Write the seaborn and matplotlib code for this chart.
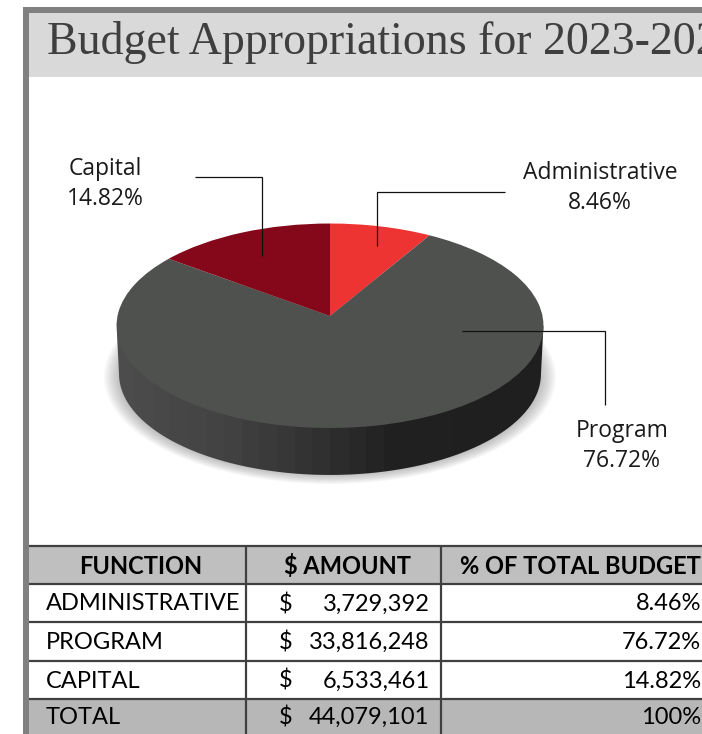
import numpy as np
import matplotlib
matplotlib.use("Agg")
import matplotlib.pyplot as plt
from matplotlib.colors import LinearSegmentedColormap
from matplotlib.patches import Ellipse, Polygon, Rectangle
from matplotlib.transforms import Transform
import seaborn as sns

TITLE = "Budget Appropriations for 2023-2024"
functions = ["ADMINISTRATIVE", "PROGRAM", "CAPITAL"]
slice_names = ["Administrative", "Program", "Capital"]
amounts = [3729392, 33816248, 6533461]
share_labels = ["8.46%", "76.72%", "14.82%"]
total_amount = 44079101
total_share = "100%"
headers = ["FUNCTION", "$ AMOUNT", "% OF TOTAL BUDGET"]
slice_colors = ["#ED3433", "#4F514F", "#84081A"]

sns.set_theme(style="white")
plt.rcParams["font.family"] = ["Open Sans", "DejaVu Sans"]

W, H = 702, 734
fig = plt.figure(figsize=(W / 100, H / 100), dpi=100, facecolor="white")
ax = fig.add_axes([0, 0, 1, 1])


class Tilt(Transform):
    """Perspective view of the unit-circle pie, returned in canvas pixels."""
    input_dims = 2
    output_dims = 2
    is_separable = False
    has_inverse = False

    def __init__(self, cx, cy, b, a, k):
        super().__init__()
        self.p = (cx, cy, b, a, k)

    def transform_non_affine(self, xy):
        cx, cy, b, a, k = self.p
        xy = np.asarray(xy, float)
        d = 1 + k * xy[:, 1]
        return np.column_stack([cx + b * xy[:, 0] / d, cy - a * xy[:, 1] / d])


k = 0.0954
top = Tilt(330, 316, 212.5, 101.3, k)
bottom = Tilt(330, 364.3, 210.0, 100.1, k)

# soft shadow under the disc
for i in range(14):
    g = i / 13
    ax.add_patch(Ellipse((330, 377), 2 * (226 - 15 * g), 2 * (107 - 9 * g),
                         facecolor="#707070", edgecolor="none", alpha=0.035, zorder=1))

# the pie's side wall
theta = np.linspace(np.pi, 2 * np.pi, 200)
circle = np.column_stack([np.cos(theta), np.sin(theta)])
# extreme points of each ellipse are at v = -k
uext = np.sqrt(1 - k ** 2)
low = bottom.transform_non_affine(circle)
outline = np.vstack([
    top.transform_non_affine(np.array([[-uext, -k]])),
    bottom.transform_non_affine(np.array([[-uext, -k]])),
    low[(low[:, 1] > 373)],
    bottom.transform_non_affine(np.array([[uext, -k]])),
    top.transform_non_affine(np.array([[uext, -k]])),
])
wall_clip = Polygon(outline, closed=True, transform=ax.transData, facecolor="none", edgecolor="none")
ax.add_patch(wall_clip)
cmap = LinearSegmentedColormap.from_list(
    "wall", [(0, "#4B4C4B"), (0.25, "#414241"), (0.5, "#2F2F2F"), (0.65, "#212121"), (1, "#1F1F1F")], N=24)
im = ax.imshow(np.linspace(0, 1, 256)[None, :], extent=(117, 544, 480, 320), cmap=cmap,
               aspect="auto", zorder=2, interpolation="nearest")
im.set_clip_path(wall_clip)

# the pie's top face, drawn by the library from the amounts
wedges, _ = ax.pie(amounts, colors=sns.color_palette(slice_colors), startangle=90,
                   counterclock=False, wedgeprops={"linewidth": 0})
for w in wedges:
    w.set_transform(top + ax.transData)
    w.set_zorder(3)
    w.set_clip_on(False)

ax.set_aspect("auto")
ax.set_xlim(0, W)
ax.set_ylim(H, 0)
ax.set_frame_on(False)
ax.set_xticks([])
ax.set_yticks([])

# leader lines and slice labels
LABEL = dict(fontsize=16.5, color="#1a1a1a", ha="center", va="center", zorder=6, linespacing=1.3)
leaders = [([505, 377, 377], [192, 192, 246]),
           ([462, 605, 605], [331, 331, 405]),
           ([195, 262, 262], [177, 177, 256])]
label_pos = [(600, 188), (622, 446), (105, 184)]
for name, share, (lx, ly), (tx, ty) in zip(slice_names, share_labels, leaders, label_pos):
    ax.plot(lx, ly, color="#111111", lw=0.9, zorder=5, solid_capstyle="butt", solid_joinstyle="miter")
    ax.text(tx, ty, f"{name}\n{share}", **LABEL)

# title band and frame
ax.add_patch(Rectangle((29, 13), W - 29, 64, facecolor="#D9D9D9", edgecolor="none", zorder=4))
ax.add_patch(Rectangle((23, 7), W - 23, 6, facecolor="#808080", edgecolor="none", zorder=4))
ax.add_patch(Rectangle((23, 7), 6, H - 7, facecolor="#808080", edgecolor="none", zorder=8))
ax.text(47, 43, TITLE, family=["Liberation Serif"], fontsize=33, color="#3F3F3F",
        ha="left", va="center", zorder=5)

# table
row_y = [546, 584, 622, 661, 699, 734]
col_x = [29, 245.5, 440.5, 702]
ax.add_patch(Rectangle((29, row_y[0]), W - 29, row_y[1] - row_y[0], facecolor="#BFBFBF", edgecolor="none", zorder=4))
ax.add_patch(Rectangle((29, row_y[4]), W - 29, row_y[5] - row_y[4], facecolor="#B7B7B7", edgecolor="none", zorder=4))
for y in row_y[:-1]:
    ax.plot([29, W], [y, y], color="#404040", lw=1.6, zorder=5, solid_capstyle="butt")
for x in col_x[1:3]:
    ax.plot([x, x], [row_y[0], H], color="#404040", lw=1.6, zorder=5, solid_capstyle="butt")

HF = dict(family=["Lato", "DejaVu Sans"], fontsize=17, color="#000000", va="center", zorder=6)
for text, x in zip(headers, [140.5, 347.5, 580.5]):
    ax.text(x, 566, text, ha="center", fontweight="bold", **HF)

rows = list(zip(functions, amounts, share_labels)) + [("TOTAL", total_amount, total_share)]
for i, (fn, amt, sh) in enumerate(rows):
    y = (row_y[i + 1] + row_y[i + 2]) / 2 + 1
    ax.text(46, y, fn, ha="left", **HF)
    ax.text(279, y, "$", ha="left", **HF)
    ax.text(429.5, y, f"{amt:,}", ha="right", **HF)
    ax.text(701, y, sh, ha="right", **HF)

fig.savefig("out.png", dpi=100, facecolor="white")
